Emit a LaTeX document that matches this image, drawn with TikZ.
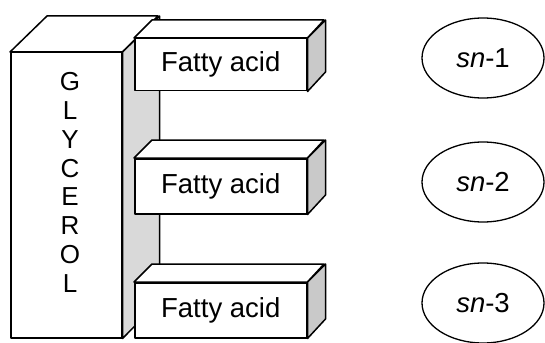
\documentclass[tikz,border=0pt]{standalone}
\usepackage{fontspec}
\setmainfont{Liberation Sans}
\usetikzlibrary{shapes.geometric}
\tikzset{
  edge/.style={line width=1.5pt, line join=round},
  frontface/.style={edge, draw=black, fill=white, rectangle, inner sep=0pt},
  sideface/.style={edge, draw=black, fill=gray!42},
  topface/.style={edge, draw=black, fill=white},
  glyside/.style={edge, draw=black, fill=gray!30},
  snnode/.style={ellipse, draw=black, line width=1.3pt, minimum width=122pt, minimum height=80pt, inner sep=0pt, font=\fontsize{27.5}{30}\selectfont},
  fatext/.style={font=\fontsize{27.5}{30}\selectfont}
}
\begin{document}
\begin{tikzpicture}[x=1pt,y=-1pt]
\clip (0,0) rectangle (545,342);
\fill[white] (0,0) rectangle (545,342);
% glycerol block
\node[frontface, minimum width=111pt, minimum height=285pt, anchor=north west] (gly) at (10,52) {};
\draw[topface] (gly.north west) -- ++(37,-36) -- ++(111,0) -- (gly.north east) -- cycle;
\draw[glyside] (gly.north east) -- ++(37,-36) -- ++(0,285) -- (gly.south east) -- cycle;
\node[font=\fontsize{26}{28.8}\selectfont, align=center] (glytext) at (70,182.5) {G\\L\\Y\\C\\E\\R\\O\\L};
% fatty acid boxes
\foreach \n/\t/\h in {1/38/52, 2/158/55, 3/282/55}{
  \node[frontface, minimum width=172pt, minimum height=\h pt, anchor=north west] (fa\n) at (134,\t) {};
  \draw[topface] (fa\n.north west) -- ++(18,-18) -- ++(172,0) -- (fa\n.north east) -- cycle;
  \draw[sideface] (fa\n.north east) -- ++(18,-18) -- ++(0,\h) -- (fa\n.south east) -- cycle;
  \node[fatext] (fat\n) at (fa\n.center) {Fatty acid};
}
% sn ellipses
\node[snnode] (sn1) at (483,58) {\textit{sn}-1};
\node[snnode] (sn2) at (483,182) {\textit{sn}-2};
\node[snnode] (sn3) at (483,303) {\textit{sn}-3};
\end{tikzpicture}
\end{document}
